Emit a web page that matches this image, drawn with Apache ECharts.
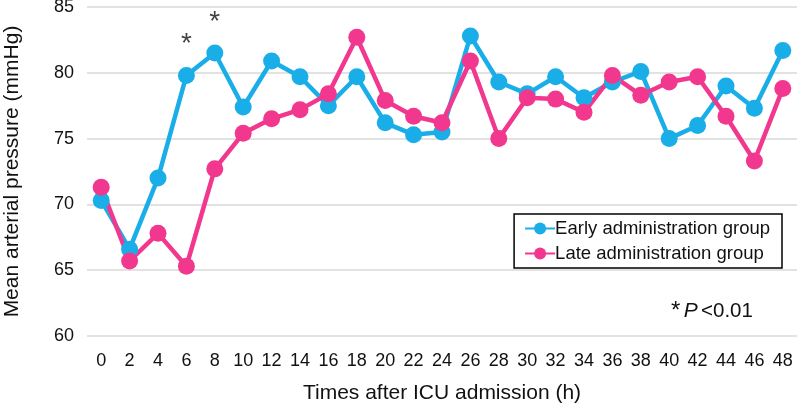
<!DOCTYPE html>
<html><head><meta charset="utf-8">
<script src="https://cdn.jsdelivr.net/npm/echarts@6/dist/echarts.min.js"></script>
<style>html,body{margin:0;padding:0;background:#fff}#c{width:797px;height:411px}</style>
</head><body><div id="c"></div>
<script>
const hours = ['0','2','4','6','8','10','12','14','16','18','20','22','24','26','28','30','32','34','36','38','40','42','44','46','48'];
const earlyGroup = [70.3,66.6,72.0,79.8,81.5,77.4,80.9,79.7,77.5,79.7,76.2,75.3,75.5,82.8,79.3,78.4,79.7,78.1,79.3,80.1,75.0,76.0,79.0,77.3,81.7];
const lateGroup = [71.3,65.7,67.8,65.3,72.7,75.4,76.5,77.2,78.4,82.7,77.9,76.7,76.2,80.9,75.0,78.1,78.0,77.0,79.8,78.3,79.3,79.7,76.7,73.3,78.8];
const significantPoints = [['6', 82.15], ['8', 83.85]];
const yTicks = [60, 65, 70, 75, 80, 85];

const FONT = 'Liberation Sans, Arial, sans-serif';
const BLUE = '#1AAEE8';
const PINK = '#F2378E';
const chart = echarts.init(document.getElementById('c'), null, {renderer: 'canvas'});
chart.setOption({
  animation: false,
  backgroundColor: '#fff',
  grid: {left: 87, right: 0, top: 7, bottom: 75, containLabel: false, outerBoundsMode: 'none'},
  xAxis: {
    type: 'category', data: hours, boundaryGap: true,
    name: 'Times after ICU admission (h)', nameLocation: 'middle', nameGap: 47,
    nameTextStyle: {fontFamily: FONT, fontSize: 21, color: '#111'},
    axisLine: {show: false}, axisTick: {show: false},
    axisLabel: {fontFamily: FONT, fontSize: 18, color: '#111', margin: 16, interval: 0}
  },
  yAxis: {
    type: 'value', min: yTicks[0], max: yTicks[yTicks.length-1], interval: 5,
    name: 'Mean arterial pressure (mmHg)', nameLocation: 'middle', nameGap: 64,
    nameTextStyle: {fontFamily: FONT, fontSize: 21, color: '#111'},
    axisLine: {show: false}, axisTick: {show: false},
    axisLabel: {fontFamily: FONT, fontSize: 18, color: '#111', margin: 13},
    splitLine: {lineStyle: {color: '#d9d9d9', width: 1.5}}
  },
  legend: {
    orient: 'vertical', right: 15, top: 214,
    borderColor: '#000', borderWidth: 1.5, padding: [5, 12, 5, 10],
    itemGap: 6, itemWidth: 30, itemHeight: 15,
    textStyle: {fontFamily: FONT, fontSize: 18.5, color: '#111', padding: [0,0,0,-5]},
    data: ['Early administration group', 'Late administration group']
  },
  series: [
    {name: 'Early administration group', type: 'line', data: earlyGroup,
     symbol: 'circle', symbolSize: 17, color: BLUE,
     lineStyle: {width: 4.5, color: BLUE}, itemStyle: {color: BLUE}},
    {name: 'Late administration group', type: 'line', data: lateGroup,
     symbol: 'circle', symbolSize: 17, color: PINK,
     lineStyle: {width: 4.5, color: PINK}, itemStyle: {color: PINK}},
    {name: 'sig', type: 'scatter', data: significantPoints, symbolSize: 1,
     itemStyle: {color: 'rgba(0,0,0,0)'}, silent: true,
     label: {show: true, position: 'inside', formatter: '*', fontFamily: FONT, fontSize: 28, color: '#111'}}
  ],
  graphic: [{
    type: 'text', left: 671, top: 299,
    style: {
      text: '{a|*} {b|P} {c|<0.01}',
      rich: {
        a: {fontFamily: FONT, fontSize: 24, fill: '#111', verticalAlign: 'top'},
        b: {fontFamily: FONT, fontSize: 21, fontStyle: 'italic', fill: '#111'},
        c: {fontFamily: FONT, fontSize: 20.5, fill: '#111'}
      }
    }
  }]
});
</script></body></html>
